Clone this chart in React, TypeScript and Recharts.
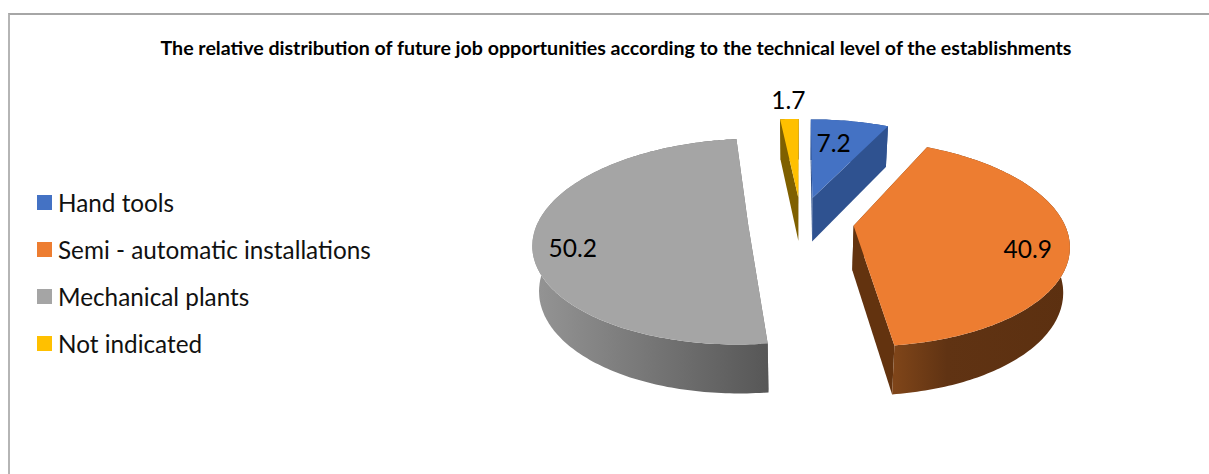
import { Legend, Pie, PieChart } from "recharts"

const categories = ["Hand tools", "Semi - automatic installations", "Mechanical plants", "Not indicated"]
const shares = [7.2, 40.9, 50.2, 1.7]
const chartData = categories.map((name, i) => ({ name, value: shares[i] }))

const faceColors = ["#4472C4", "#ED7D31", "#A5A5A5", "#FFC000"]
const radialWallColors = ["#2F5290", "#63330F", "#6E6E6E", "#7F6000"]
const arcWallStops = [
  ["#2F5290", "#2F5290", "#2F5290"],
  ["#7F4519", "#603313", "#5C3010"],
  ["#959595", "#767676", "#575757"],
  ["#7F6000", "#7F6000", "#7F6000"],
]
const arcWallMidStops = ["50%", "30%", "50%", "50%"]
// label placement: fraction of the radius, then a small nudge
const labelFractions = [0.72, 0.81, 0.81, 1.27]
const labelNudges = [[-7, 2], [0, 9], [-2, 14], [1, -2]]

const FONT = "Lato, sans-serif"
const EXPLODE = 53
const PERSPECTIVE = 0.167
const SQUASH = 0.4716
const WALL_TAPER = 0.975

function project(cx: number, cy: number, r: number, theta: number, mid: number, frac = 1) {
  const t = (theta * Math.PI) / 180
  const m = (mid * Math.PI) / 180
  const X = EXPLODE * Math.sin(m) + r * frac * Math.sin(t)
  const Z = EXPLODE * Math.cos(m) + r * frac * Math.cos(t)
  const s = 1 / (1 + (PERSPECTIVE * Z) / r)
  return { x: cx + X * s, y: cy - SQUASH * Z * s, s }
}

const wallDepth = (s: number) => 40 + (s - 0.8) * 22

function Slice3D(props: any) {
  const { cx, cy, outerRadius, startAngle, endAngle, midAngle, index } = props
  const mid = 90 - midAngle
  const from = 90 - startAngle
  const to = 90 - endAngle
  const apex = project(cx, cy, outerRadius, 0, mid, 0)
  const arc: { x: number; y: number; s: number }[] = []
  const steps = Math.max(4, Math.ceil(to - from))
  for (let i = 0; i <= steps; i++) {
    arc.push(project(cx, cy, outerRadius, from + ((to - from) * i) / steps, mid))
  }
  const pt = (p: { x: number; y: number }) => `${p.x.toFixed(1)},${p.y.toFixed(1)}`
  const low = (p: { x: number; y: number; s: number }) => ({
    x: cx + (p.x - cx) * WALL_TAPER,
    y: p.y + wallDepth(p.s),
    s: p.s,
  })
  const first = arc[0]
  const last = arc[arc.length - 1]
  const gradId = `wall-${index}`
  const xs = arc.map((p) => p.x)
  return (
    <g>
      <defs>
        <linearGradient id={gradId} gradientUnits="userSpaceOnUse" x1={Math.min(...xs)} x2={Math.max(...xs)} y1={0} y2={0}>
          <stop offset="0%" stopColor={arcWallStops[index][0]} />
          <stop offset={arcWallMidStops[index]} stopColor={arcWallStops[index][1]} />
          <stop offset="100%" stopColor={arcWallStops[index][2]} />
        </linearGradient>
      </defs>
      <polygon
        points={[apex, first, low(first), low(apex)].map(pt).join(" ")}
        fill={radialWallColors[index]}
      />
      <polygon
        points={[apex, last, low(last), low(apex)].map(pt).join(" ")}
        fill={radialWallColors[index]}
      />
      <polygon
        points={[...arc, ...arc.map(low).reverse()].map(pt).join(" ")}
        fill={`url(#${gradId})`}
      />
      <polygon points={[apex, ...arc].map(pt).join(" ")} fill={faceColors[index]} />
    </g>
  )
}

function SliceLabel(props: any) {
  const { cx, cy, outerRadius, midAngle, index, value } = props
  const mid = 90 - midAngle
  const p = project(cx, cy, outerRadius, mid, mid, labelFractions[index])
  return (
    <text
      x={p.x + labelNudges[index][0]}
      y={p.y + labelNudges[index][1]}
      textAnchor="middle"
      dominantBaseline="central"
      fontFamily={FONT}
      fontSize={24.5}
      fill="#000"
    >
      {value}
    </text>
  )
}

function LegendList() {
  return (
    <div>
      {categories.map((name, i) => (
        <div key={name} style={{ display: "flex", alignItems: "center", height: 47 }}>
          <span style={{ width: 15, height: 15, background: faceColors[i], marginRight: 6 }} />
          <span style={{ fontFamily: FONT, fontSize: 24.3, color: "#111" }}>{name}</span>
        </div>
      ))}
    </div>
  )
}

export default function App() {
  return (
    <div style={{ position: "absolute", left: 0, top: 0, width: 1209, height: 474, background: "#fff", overflow: "hidden" }}>
      <div style={{ position: "absolute", left: 8, top: 13, right: 0, bottom: 0, borderTop: "2px solid #a6a6a6", borderLeft: "2px solid #b5b5b5" }} />
      <PieChart
        width={1209}
        height={474}
        margin={{ top: 0, right: 0, bottom: 0, left: 0 }}
        style={{ position: "absolute", left: 0, top: 0 }}
      >
        <text x={616} y={55} textAnchor="middle" fontFamily={FONT} fontWeight={700} fontSize={19.6} fill="#000">
          The relative distribution of future job opportunities according to the technical level of the establishments
        </text>
        <Legend
          layout="vertical"
          content={<LegendList />}
          wrapperStyle={{ left: 37, top: 178.5, width: 400, bottom: "auto" }}
        />
        <Pie
          data={chartData}
          dataKey="value"
          nameKey="name"
          cx={801}
          cy={221.5}
          outerRadius={210}
          startAngle={90}
          endAngle={-270}
          stroke="none"
          shape={Slice3D}
          label={SliceLabel}
          labelLine={false}
          isAnimationActive={false}
        />
      </PieChart>
    </div>
  )
}
